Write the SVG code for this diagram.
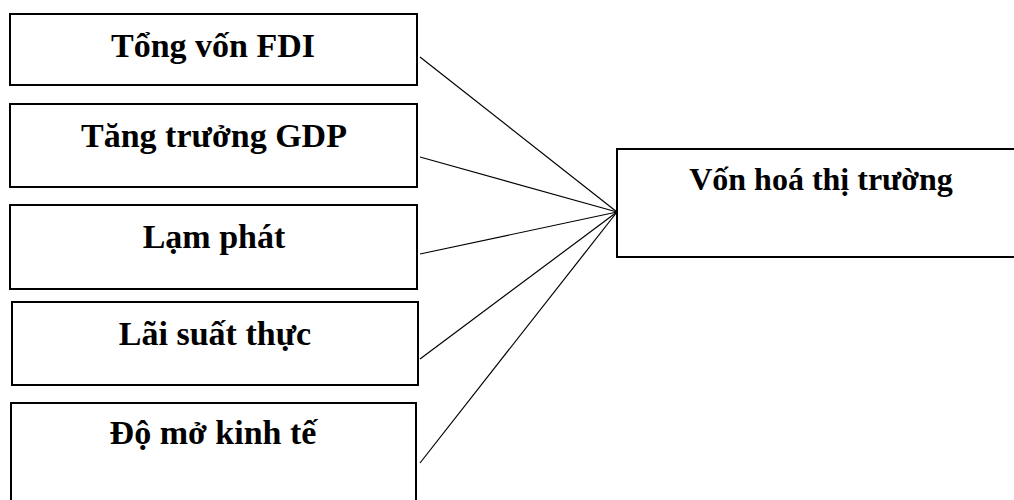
<svg xmlns="http://www.w3.org/2000/svg" width="1014" height="500" viewBox="0 0 1014 500">
  <style>
    .box { fill: #ffffff; stroke: #000000; stroke-width: 2; }
    .label { font-family: "Liberation Serif", "Times New Roman", serif; font-weight: bold; font-size: 34px; fill: #000000; text-anchor: middle; }
    .target { font-size: 32px; }
    .link { stroke: #000000; stroke-width: 1.2; fill: none; }
  </style>
  <rect width="1014" height="500" fill="#ffffff"/>

  <!-- connectors: every factor points into the market-cap box -->
  <g id="connectors">
    <line class="link" x1="420" y1="57" x2="617" y2="212"/>
    <line class="link" x1="420" y1="157" x2="617" y2="212"/>
    <line class="link" x1="420" y1="254" x2="617" y2="212"/>
    <line class="link" x1="420" y1="359" x2="617" y2="212"/>
    <line class="link" x1="420" y1="463" x2="617" y2="212"/>
  </g>

  <g id="fdi">
    <rect class="box" x="10" y="14" width="407" height="71"/>
    <text class="label" x="213" y="57">Tổng vốn FDI</text>
  </g>
  <g id="gdp">
    <rect class="box" x="10" y="104" width="407" height="83"/>
    <text class="label" x="214" y="147">Tăng trưởng GDP</text>
  </g>
  <g id="inflation">
    <rect class="box" x="10" y="205" width="407" height="84"/>
    <text class="label" x="214" y="248">Lạm phát</text>
  </g>
  <g id="real-rate">
    <rect class="box" x="12" y="302" width="406" height="83"/>
    <text class="label" x="215" y="345">Lãi suất thực</text>
  </g>
  <g id="openness">
    <rect class="box" x="11" y="403" width="405" height="110"/>
    <text class="label" x="213" y="444">Độ mở kinh tế</text>
  </g>
  <g id="market-cap">
    <rect class="box" x="617" y="149" width="410" height="108"/>
    <text class="label target" x="821" y="190">Vốn hoá thị trường</text>
  </g>
</svg>
